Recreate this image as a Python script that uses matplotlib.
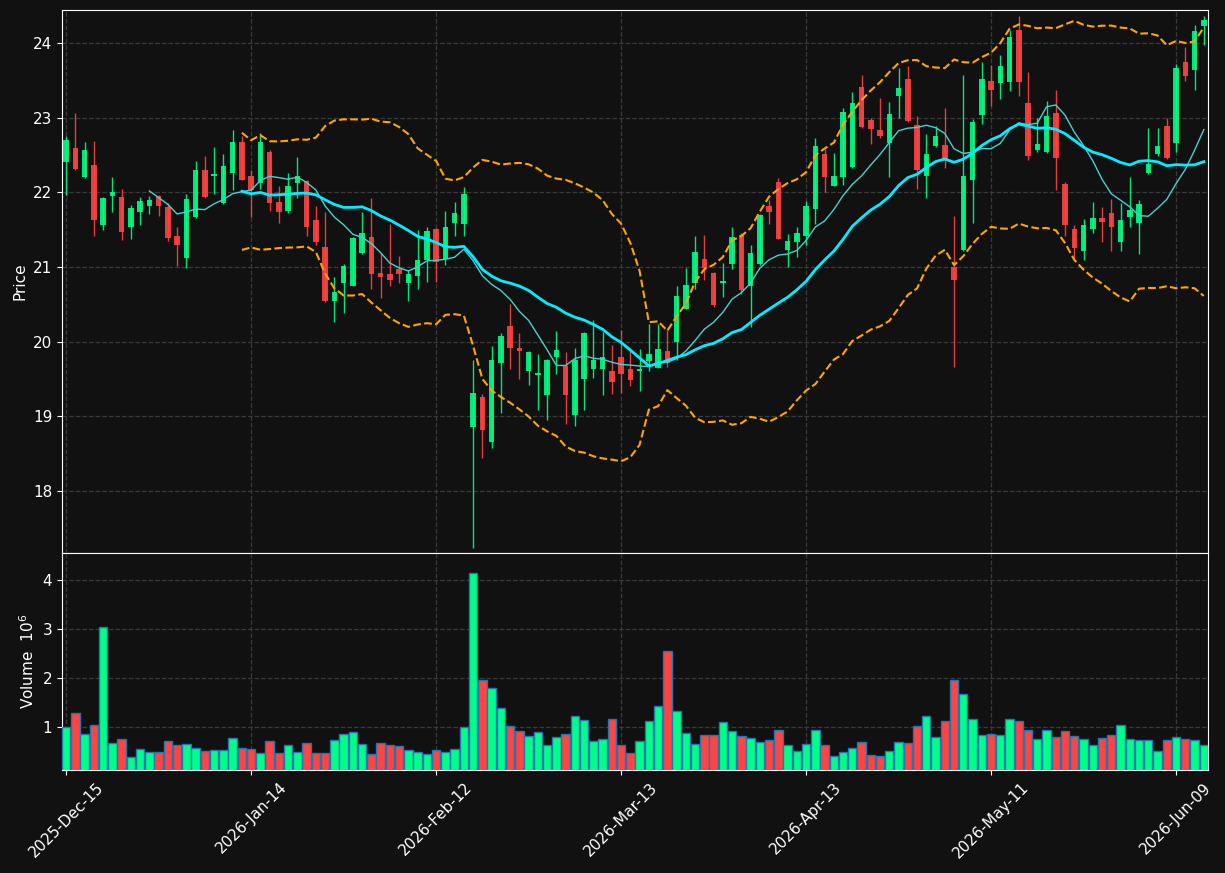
import numpy as np
import pandas as pd
import matplotlib
matplotlib.use("Agg")
import matplotlib.pyplot as plt

# daily OHLC
opens = [22.40, 22.59, 22.20, 22.37, 21.56, 21.95, 21.93, 21.53, 21.74, 21.81,
         21.95, 21.80, 21.42, 21.12, 21.67, 22.30, 22.22, 21.85, 22.26, 22.67,
         22.22, 22.12, 22.54, 21.87, 21.75, 22.12, 22.15, 21.63, 21.27, 20.54,
         20.79, 20.75, 21.18, 21.40, 20.92, 20.91, 20.97, 20.78, 20.88, 21.09,
         21.51, 21.11, 21.59, 21.57, 18.85, 19.26, 18.65, 19.71, 20.21, 19.91,
         19.60, 19.55, 19.28, 19.80, 19.67, 19.02, 19.50, 19.64, 19.64, 19.61,
         19.79, 19.63, 19.61, 19.74, 19.65, 19.88, 19.99, 20.44, 20.79, 21.11,
         20.92, 20.78, 21.04, 21.43, 20.75, 21.04, 21.82, 22.14, 21.23, 21.33,
         21.41, 21.77, 22.51, 22.09, 22.20, 22.34, 23.41, 22.97, 22.83, 22.66,
         23.29, 23.52, 22.90, 22.22, 22.62, 22.63, 21.00, 21.23, 22.17, 23.04,
         23.49, 23.46, 23.48, 24.17, 23.19, 22.56, 22.54, 23.06, 22.11, 21.51,
         21.21, 21.51, 21.66, 21.72, 21.33, 21.67, 21.59, 22.26, 22.51, 22.89,
         22.66, 23.75, 23.64, 24.22]
highs = [22.75, 23.06, 22.67, 22.69, 21.93, 22.20, 22.04, 21.83, 21.94, 21.95,
         21.96, 21.85, 21.54, 21.98, 22.42, 22.49, 22.60, 22.51, 22.84, 22.75,
         22.30, 22.79, 22.57, 22.08, 22.26, 22.47, 22.16, 21.81, 21.74, 20.86,
         21.04, 21.40, 21.74, 21.92, 21.18, 21.58, 21.14, 20.96, 21.50, 21.53,
         21.52, 21.75, 21.87, 22.07, 19.75, 19.30, 19.94, 20.11, 20.50, 20.11,
         19.87, 19.84, 19.77, 20.14, 19.86, 19.92, 20.13, 20.29, 20.13, 19.95,
         20.16, 19.88, 19.90, 20.24, 20.24, 20.15, 20.75, 20.98, 21.42, 21.43,
         20.93, 21.05, 21.53, 21.46, 21.30, 21.71, 21.90, 22.19, 21.44, 21.54,
         21.88, 22.73, 22.58, 22.53, 23.13, 23.34, 23.57, 23.00, 23.26, 23.21,
         23.67, 23.69, 23.02, 22.78, 22.89, 23.13, 21.68, 23.57, 22.98, 23.74,
         23.70, 23.84, 24.17, 24.36, 23.61, 22.99, 23.22, 23.37, 22.14, 21.56,
         21.64, 21.87, 21.80, 21.91, 21.85, 22.20, 21.89, 22.86, 22.86, 22.99,
         23.72, 23.94, 24.24, 24.36]
lows = [21.96, 22.30, 22.19, 21.41, 21.50, 21.73, 21.36, 21.38, 21.56, 21.71,
        21.68, 21.35, 21.01, 20.98, 21.66, 21.92, 21.97, 21.84, 22.03, 22.16,
        21.67, 22.04, 21.75, 21.59, 21.72, 21.92, 21.41, 21.29, 20.53, 20.26,
        20.38, 20.74, 21.17, 20.70, 20.58, 20.74, 20.79, 20.55, 20.70, 20.80,
        20.80, 21.03, 21.41, 21.41, 17.23, 18.44, 18.58, 19.05, 19.63, 19.50,
        19.42, 19.08, 18.95, 19.57, 18.90, 18.87, 19.08, 19.51, 19.28, 19.30,
        19.31, 19.40, 19.34, 19.60, 19.65, 19.66, 19.76, 20.44, 20.70, 20.83,
        20.46, 20.60, 20.97, 20.64, 20.20, 21.03, 21.57, 21.37, 21.00, 21.13,
        21.29, 21.58, 22.00, 22.08, 22.10, 22.33, 22.86, 22.64, 22.73, 22.21,
        23.00, 22.94, 22.04, 21.92, 22.60, 22.33, 19.66, 21.22, 21.59, 22.92,
        23.15, 23.25, 23.35, 23.29, 22.43, 22.54, 22.53, 22.03, 21.41, 21.12,
        21.09, 21.46, 21.34, 21.21, 21.21, 21.53, 21.17, 22.25, 22.49, 22.45,
        22.54, 23.49, 23.37, 23.97]
closes = [22.70, 22.31, 22.57, 21.63, 21.92, 22.00, 21.47, 21.79, 21.88, 21.90,
          21.82, 21.39, 21.29, 21.91, 22.30, 21.93, 22.25, 22.35, 22.67, 22.17,
          22.03, 22.67, 21.86, 21.73, 22.08, 22.22, 21.54, 21.33, 20.54, 20.67,
          21.01, 21.39, 21.45, 20.90, 20.86, 20.83, 20.90, 20.91, 21.09, 21.48,
          21.07, 21.54, 21.72, 21.98, 19.31, 18.82, 19.75, 20.08, 19.91, 19.87,
          19.86, 19.58, 19.75, 19.89, 19.29, 19.75, 20.12, 19.75, 19.79, 19.46,
          19.56, 19.49, 19.63, 19.83, 19.90, 19.71, 20.61, 20.76, 21.20, 20.98,
          20.49, 20.81, 21.40, 20.69, 21.19, 21.70, 21.74, 21.38, 21.35, 21.46,
          21.82, 22.62, 22.20, 22.22, 23.07, 23.20, 22.88, 22.85, 22.75, 23.05,
          23.40, 22.96, 22.30, 22.51, 22.75, 22.42, 20.83, 22.22, 22.94, 23.52,
          23.37, 23.69, 24.08, 23.48, 22.49, 22.64, 23.02, 22.46, 21.56, 21.26,
          21.56, 21.66, 21.60, 21.54, 21.63, 21.76, 21.84, 22.38, 22.62, 22.46,
          23.67, 23.56, 24.16, 24.31]
# volume in millions
volumes = [1.00, 1.28, 0.86, 1.04, 3.04, 0.66, 0.76, 0.39, 0.55, 0.49,
           0.49, 0.70, 0.62, 0.64, 0.57, 0.51, 0.53, 0.53, 0.78, 0.57,
           0.55, 0.47, 0.70, 0.47, 0.62, 0.49, 0.66, 0.47, 0.47, 0.74,
           0.86, 0.90, 0.64, 0.45, 0.66, 0.62, 0.60, 0.53, 0.49, 0.45,
           0.53, 0.49, 0.55, 1.00, 4.14, 1.95, 1.79, 1.38, 1.02, 0.92,
           0.82, 0.90, 0.62, 0.80, 0.86, 1.22, 1.14, 0.70, 0.76, 1.16,
           0.62, 0.47, 0.70, 1.12, 1.43, 2.54, 1.32, 0.88, 0.64, 0.84,
           0.84, 1.10, 0.92, 0.82, 0.78, 0.68, 0.72, 0.94, 0.62, 0.51,
           0.64, 0.94, 0.62, 0.41, 0.49, 0.57, 0.68, 0.43, 0.41, 0.51,
           0.68, 0.66, 1.02, 1.22, 0.80, 1.12, 1.95, 1.67, 1.16, 0.84,
           0.86, 0.84, 1.16, 1.12, 0.94, 0.76, 0.94, 0.80, 0.92, 0.82,
           0.76, 0.62, 0.78, 0.84, 1.04, 0.76, 0.74, 0.74, 0.51, 0.74,
           0.80, 0.76, 0.72, 0.62]
tick_labels = ['2025-Dec-15', '2026-Jan-14', '2026-Feb-12', '2026-Mar-13',
               '2026-Apr-13', '2026-May-11', '2026-Jun-09']

df = pd.DataFrame({'Open': opens, 'High': highs, 'Low': lows,
                   'Close': closes, 'Volume': volumes})
x = np.arange(len(df))

# indicators
ma10 = df['Close'].rolling(10).mean()
ma20 = df['Close'].rolling(20).mean()
sd20 = df['Close'].rolling(20).std(ddof=0)
upper = ma20 + 2 * sd20
lower = ma20 - 2 * sd20

bg = '#111111'
up_col = '#00ff88'
down_col = '#ff4444'
is_up = df['Close'] >= df['Open']
colors = np.where(is_up, up_col, down_col)

fig = plt.figure(figsize=(12.25, 8.73), dpi=100, facecolor=bg)
ax = fig.add_axes([0.0506, 0.3666, 0.9355, 0.6219], facecolor=bg)
axv = fig.add_axes([0.0506, 0.1180, 0.9355, 0.2486], facecolor=bg, sharex=ax)

# candles
ax.vlines(x, df['Low'], df['High'], colors=colors, linewidth=1, alpha=0.9, zorder=2)
body_bot = np.minimum(df['Open'], df['Close'])
body_h = np.maximum((df['Close'] - df['Open']).abs(), 0.02)
ax.bar(x, body_h, bottom=body_bot, width=0.6, color=colors, alpha=0.9,
       linewidth=0, zorder=3)

# moving averages + bands
ax.plot(x, ma10, color='#48d1cc', linewidth=1, zorder=4)
ax.plot(x, ma20, color='#00eeff', linewidth=2, zorder=4)
ax.plot(x, upper, color='orange', linewidth=1.5, linestyle='--', zorder=4)
ax.plot(x, lower, color='orange', linewidth=1.5, linestyle='--', zorder=4)

# volume
axv.bar(x, df['Volume'], width=0.9, color=colors, edgecolor='#1f77b4',
        linewidth=1, zorder=3)

ax.set_xlim(-0.45, len(df) - 0.55)
ax.set_ylim(17.17, 24.44)
axv.set_ylim(0.3 * df['Volume'].min(), 1.1 * df['Volume'].max())

for a in (ax, axv):
    a.grid(True, color='#3a3a3a', linestyle='--', linewidth=0.9, zorder=0)
    a.tick_params(colors='white', labelsize=11)
    for s in a.spines.values():
        s.set_color('white')

ax.set_yticks([18, 19, 20, 21, 22, 23, 24])
axv.set_yticks([1, 2, 3, 4])
axv.set_xticks(x[::20])
axv.set_xticklabels(tick_labels, rotation=45)
plt.setp(ax.get_xticklabels(), visible=False)
ax.tick_params(axis='x', length=0)

ax.set_ylabel('Price', color='white', fontsize=11)
axv.set_ylabel('Volume  $10^6$', color='white', fontsize=11)

fig.savefig('out.png', dpi=100, facecolor=bg)
